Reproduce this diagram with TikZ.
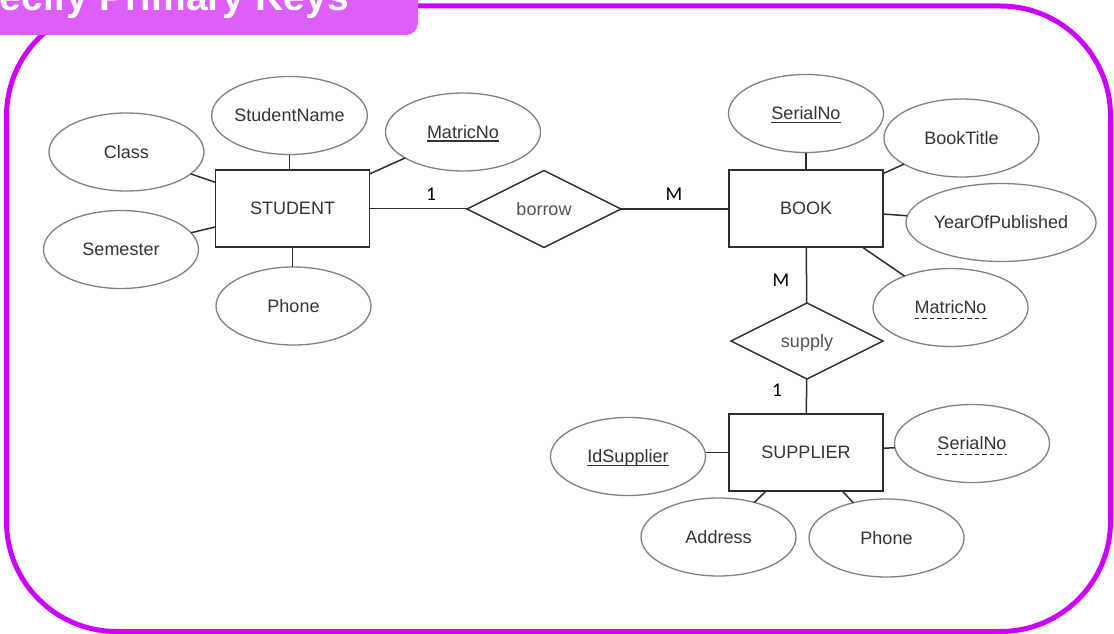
\documentclass[tikz,border=0pt]{standalone}
\usepackage{fontspec}
\setmainfont{Liberation Sans}
\newfontfamily\cardfont{Carlito}
\usetikzlibrary{shapes.geometric}

\definecolor{frameviolet}{RGB}{204,0,255}
\definecolor{tabviolet}{RGB}{221,94,249}
\definecolor{ink}{RGB}{51,51,51}
\definecolor{ovalgray}{RGB}{128,128,128}
\definecolor{edgegray}{RGB}{45,45,45}

\tikzset{
  er text/.style={text=ink, font=\fontsize{18}{20}\selectfont, text height=12pt, text depth=0pt},
  attr/.style={ellipse, draw=ovalgray, line width=1.3pt, minimum width=155pt, minimum height=78pt,
               inner sep=0pt, outer sep=0pt, er text},
  entity/.style={rectangle, draw=edgegray, line width=1.6pt, minimum width=154pt, minimum height=77pt,
               inner sep=0pt, outer sep=0pt, er text},
  relation/.style={diamond, draw=edgegray, line width=1.5pt, minimum width=154pt, minimum height=77pt,
               inner sep=0pt, outer sep=0pt, er text, text=ink!85!white},
  keytext/.style={inner sep=0pt, outer sep=0pt, er text},
  link/.style={draw=edgegray, line width=1.5pt},
  card/.style={inner sep=0pt, text=black, font=\cardfont\fontsize{19.5}{21}\selectfont},
  keyline/.style={draw=ink, line width=1.3pt},
  partialkey/.style={draw=black!85, line width=1.8pt, dash pattern=on 4.5pt off 3pt},
}

\begin{document}
\begin{tikzpicture}[x=1pt, y=-1pt]
  \useasboundingbox (0,0) rectangle (1114,634);
  \clip (0,0) rectangle (1114,634);

  % outer frame and title tab
  \draw[frameviolet, line width=5pt, rounded corners=110pt] (6.5,6) rectangle (1110.5,631.5);
  \fill[tabviolet, rounded corners=12pt] (-40,-40) rectangle (418,35);
  \node[anchor=base east, inner sep=0pt, text=white, font=\bfseries\fontsize{39}{40}\selectfont]
    (title) at (349,11) {Specify Primary Keys};

  % STUDENT and its attributes
  \node[entity] (st) at (292.5,208.5) {STUDENT};
  \node[attr] (sname) at (289.5,115.5) {StudentName};
  \node[attr] (cls) at (126.5,152) {Class};
  \node[attr] (sem) at (121,249.5) {Semester};
  \node[attr] (sph) at (293.5,306) {Phone};
  \node[attr] (smat) at (463,132) {};
  \node[keytext] (smatt) at (smat) {MatricNo};

  % BOOK and its attributes
  \node[entity] (bk) at (806,208.5) {BOOK};
  \node[attr] (bser) at (806,113.5) {};
  \node[keytext] (bsert) at (bser) {SerialNo};
  \node[attr] (btit) at (961.5,138) {BookTitle};
  \node[attr] (byop) at (1001,222.5) {YearOfPublished};
  \node[attr] (bmat) at (950.5,307.5) {};
  \node[keytext] (bmatt) at (bmat) {MatricNo};

  % SUPPLIER and its attributes
  \node[entity] (sup) at (806,452.5) {SUPPLIER};
  \node[attr] (ids) at (628,456.5) {};
  \node[keytext] (idst) at (ids) {IdSupplier};
  \node[attr] (sser) at (972,443.5) {};
  \node[keytext] (ssert) at (sser) {SerialNo};
  \node[attr] (addr) at (718.5,537) {Address};
  \node[attr] (sph2) at (886.5,538) {Phone};

  % relationships
  \node[relation] (bw) at (544,209) {borrow};
  \node[relation, minimum width=152pt, minimum height=76pt] (sp) at (807,341) {supply};

  % key underlines
  \draw[keyline] ([yshift=-3pt]smatt.base west) -- ([yshift=-3pt]smatt.base east);
  \draw[keyline] ([yshift=-3pt]bsert.base west) -- ([yshift=-3pt]bsert.base east);
  \draw[keyline] ([yshift=-3pt]idst.base west) -- ([yshift=-3pt]idst.base east);
  \draw[partialkey] ([yshift=-5pt]bmatt.base west) -- ([yshift=-5pt]bmatt.base east);
  \draw[partialkey] ([yshift=-5pt]ssert.base west) -- ([yshift=-5pt]ssert.base east);

  % attribute links
  \draw[link] (sname) -- (sname |- st.north);
  \draw[link] (cls) -- (st);
  \draw[link] (sem) -- (st);
  \draw[link] (st) -- (st |- sph.north);
  \draw[link] (smat) -- (st);

  \draw[link] (bser) -- (bk);
  \draw[link] (btit) -- (bk);
  \draw[link] (byop) -- (bk);
  \draw[link] (bmat) -- (bk);

  \draw[link] (sup) -- (sup -| ids.east);
  \draw[link] (sser) -- (sup);
  \draw[link] (addr) -- (sup);
  \draw[link] (sph2) -- (sup);

  % relationship links
  \draw[link] (st) -- (st -| bw.west);
  \draw[link] (bw) -- (bw -| bk.west);
  \draw[link] (bk) -- (sp);
  \draw[link] (sp) -- (sup);

  % cardinalities
  \node[card] (c1) at (431,194) {1};
  \node[card] (c2) at (674,194) {M};
  \node[card] (c3) at (781,280.5) {M};
  \node[card] (c4) at (777,390.5) {1};
\end{tikzpicture}
\end{document}
